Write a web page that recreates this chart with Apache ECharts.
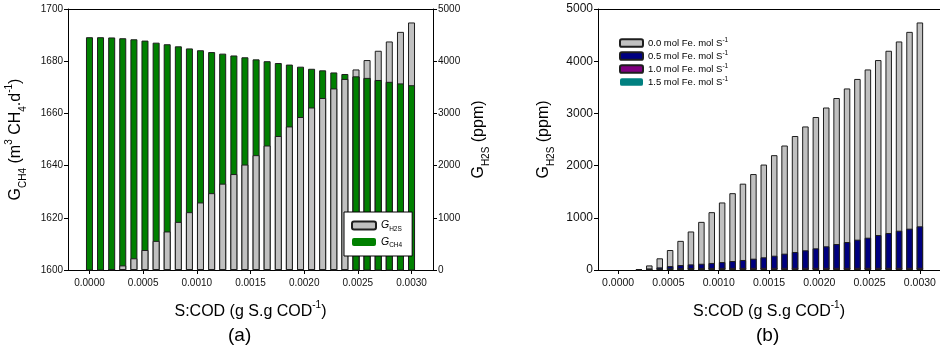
<!DOCTYPE html>
<html>
<head>
<meta charset="utf-8">
<script src="https://cdn.jsdelivr.net/npm/echarts@6/dist/echarts.min.js"></script>
<style>
  html, body { margin: 0; padding: 0; background: #fff; }
  #chart { width: 940px; height: 354px; }
</style>
</head>
<body>
<div id="chart"></div>
<script>
// S:COD ratio of each run (g S per g COD)
const sCod = [0, 0.000103, 0.000207, 0.000310, 0.000414, 0.000517, 0.000621, 0.000724, 0.000828, 0.000931,
  0.001034, 0.001138, 0.001241, 0.001345, 0.001448, 0.001552, 0.001655, 0.001759, 0.001862, 0.001966,
  0.002069, 0.002172, 0.002276, 0.002379, 0.002483, 0.002586, 0.002690, 0.002793, 0.002897, 0.003000];

// (a) methane production, m3 CH4/d
const gCH4 = [1689.2, 1689.2, 1689.1, 1688.8, 1688.4, 1687.9, 1687.1, 1686.5, 1685.7, 1684.9,
  1684.2, 1683.5, 1682.9, 1682.2, 1681.5, 1680.7, 1680.0, 1679.3, 1678.7, 1677.9,
  1677.1, 1676.5, 1675.7, 1675.1, 1674.2, 1673.6, 1672.8, 1672.1, 1671.5, 1670.8];

// H2S in biogas, ppm, without iron dosing (used in both panels)
const gH2S = [0, 0, 15, 88, 224, 383, 558, 738, 922, 1108,
  1294, 1472, 1654, 1838, 2020, 2200, 2385, 2567, 2750, 2931,
  3113, 3295, 3478, 3660, 3842, 4022, 4200, 4378, 4562, 4742];

// (b) H2S with iron dosing, ppm
const fe05 = [0, 0, 8, 30, 50, 75, 95, 108, 120, 135,
  152, 172, 192, 217, 243, 274, 313, 345, 377, 415,
  454, 498, 536, 581, 619, 670, 709, 753, 792, 837];
const fe10 = [0, 0, 0, 10, 18, 26, 32, 38, 40, 40,
  41, 41, 41, 42, 42, 42, 42, 42, 42, 42,
  42, 42, 42, 42, 42, 42, 42, 42, 42, 42];
const fe15 = [0, 0, 0, 20, 30, 32, 28, 15, 5, 0,
  0, 0, 0, 0, 0, 0, 0, 0, 0, 0,
  0, 0, 0, 0, 0, 0, 0, 0, 0, 0];

const xTicks = [0, 0.0005, 0.0010, 0.0015, 0.0020, 0.0025, 0.0030];
const feNames = ['0.0', '0.5', '1.0', '1.5'];

const FONT = '"Liberation Sans", Arial, sans-serif';
const INK = '#000';
const EDGE = '#1e1e1e';

// zero readings draw no bar
const pairs = vals => sCod.map((x, i) => [x, vals[i] > 0 ? vals[i] : '-']);

// methane bars that are shorter than the H2S bar (in plot height) go in front
const ch4Front = sCod.map((x, i) =>
  (gCH4[i] - 1600) / 100 < gH2S[i] / 5000 ? [x, gCH4[i]] : [x, '-']);

const richTitle = size => ({
  t: { fontSize: size, lineHeight: 24, fontFamily: FONT, color: INK },
  s: { fontSize: Math.round(size * 0.65), lineHeight: 8, verticalAlign: 'bottom', fontFamily: FONT, color: INK },
  p: { fontSize: Math.round(size * 0.65), lineHeight: 8, verticalAlign: 'top', fontFamily: FONT, color: INK }
});

const xTitle = '{t|S:COD (g S.g COD}{p|-1}{t|)}';

function xAxisFor(grid, labelSize) {
  return {
    type: 'value', gridIndex: grid, min: -0.0002, max: 0.0032,
    axisLine: { show: true, onZero: false, lineStyle: { color: INK, width: 1 } },
    axisTick: { show: true, customValues: xTicks, length: 4, lineStyle: { color: INK } },
    axisLabel: { customValues: xTicks, formatter: v => v.toFixed(4), fontSize: labelSize,
      fontFamily: FONT, color: '#111', margin: 8 },
    splitLine: { show: false },
    name: xTitle, nameLocation: 'middle', nameGap: 30,
    nameTextStyle: { rich: richTitle(16) }
  };
}
function frameTop(grid) {
  return {
    type: 'value', gridIndex: grid, position: 'top', min: -0.0002, max: 0.0032,
    axisLine: { show: true, onZero: false, lineStyle: { color: INK, width: 1 } },
    axisTick: { show: false }, axisLabel: { show: false }, splitLine: { show: false }
  };
}
function yAxisFor(grid, pos, min, max, step, labelSize, title, gap) {
  return {
    type: 'value', gridIndex: grid, position: pos, min: min, max: max, interval: step,
    axisLine: { show: true, onZero: false, lineStyle: { color: INK, width: 1 } },
    axisTick: { show: true, length: 4, lineStyle: { color: INK } },
    axisLabel: { fontSize: labelSize, fontFamily: FONT, color: '#111', margin: 5,
      formatter: v => String(v) },
    splitLine: { show: false },
    name: title, nameLocation: 'middle', nameRotate: 90, nameGap: gap,
    nameTextStyle: { rich: richTitle(16) }
  };
}
function bars(name, xi, yi, data, color, width) {
  return {
    type: 'bar', name: name, xAxisIndex: xi, yAxisIndex: yi, data: data,
    barWidth: width, barGap: '-100%',
    itemStyle: { color: color, borderColor: EDGE, borderWidth: 1 },
    emphasis: { disabled: true }
  };
}

const chart = echarts.init(document.getElementById('chart'), null, { renderer: 'canvas' });
chart.setOption({
  animation: false,
  backgroundColor: '#fff',
  textStyle: { fontFamily: FONT },
  grid: [
    { left: 68, top: 9, width: 365, height: 261 },
    { left: 598, top: 9, width: 345, height: 261 }
  ],
  xAxis: [xAxisFor(0, 10), xAxisFor(1, 10.5), frameTop(0), frameTop(1)],
  yAxis: [
    yAxisFor(0, 'left', 1600, 1700, 20, 10, '{t|G}{s|CH4}{t| (m}{p|3}{t| CH}{s|4}{t|.d}{p|-1}{t|)}', 40),
    yAxisFor(0, 'right', 0, 5000, 1000, 10, '{t|G}{s|H2S}{t| (ppm)}', 34),
    yAxisFor(1, 'left', 0, 5000, 1000, 12, '{t|G}{s|H2S}{t| (ppm)}', 42)
  ],
  legend: [
    {
      data: [{ name: 'GH2S' }, { name: 'GCH4', itemStyle: { borderWidth: 0 } }],
      orient: 'vertical', left: 344, top: 212,
      padding: [8, 10, 7, 7], itemWidth: 24, itemHeight: 8, itemGap: 4,
      backgroundColor: '#fff', borderColor: INK, borderWidth: 1, borderRadius: 0,
      selectedMode: false,
      formatter: n => n === 'GH2S' ? '{g|G}{s|H2S}' : '{g|G}{s|CH4}',
      textStyle: {
        rich: {
          g: { fontSize: 10.5, fontStyle: 'italic', lineHeight: 14, fontFamily: FONT, color: INK },
          s: { fontSize: 6.5, lineHeight: 6, verticalAlign: 'bottom', fontFamily: FONT, color: INK }
        }
      }
    },
    {
      data: [{ name: feNames[0] }, { name: feNames[1] }, { name: feNames[2] },
        { name: feNames[3], itemStyle: { borderWidth: 0 } }],
      orient: 'vertical', left: 619, top: 37, padding: 0,
      itemWidth: 23, itemHeight: 7.5, itemGap: 2, selectedMode: false,
      formatter: n => '{t|' + n + ' mol Fe. mol S}{p|-1}',
      textStyle: {
        rich: {
          t: { fontSize: 9.5, lineHeight: 12, fontFamily: FONT, color: INK },
          p: { fontSize: 6.5, lineHeight: 6, verticalAlign: 'top', fontFamily: FONT, color: INK }
        }
      }
    }
  ],
  series: [
    bars('GCH4', 0, 0, pairs(gCH4), '#008000', 7),
    bars('GH2S', 0, 1, pairs(gH2S), '#c0c0c0', 7),
    bars('GCH4', 0, 0, ch4Front, '#008000', 7),
    bars(feNames[0], 1, 2, pairs(gH2S), '#c0c0c0', 6.5),
    bars(feNames[1], 1, 2, pairs(fe05), '#000080', 6.5),
    bars(feNames[2], 1, 2, pairs(fe10), '#800080', 6.5),
    bars(feNames[3], 1, 2, pairs(fe15), '#008080', 6.5)
  ],
  graphic: [
    { type: 'text', left: 228, top: 326, style: { text: '(a)', font: '19px ' + FONT, fill: INK } },
    { type: 'text', left: 756, top: 326, style: { text: '(b)', font: '19px ' + FONT, fill: INK } }
  ]
});
</script>
</body>
</html>
